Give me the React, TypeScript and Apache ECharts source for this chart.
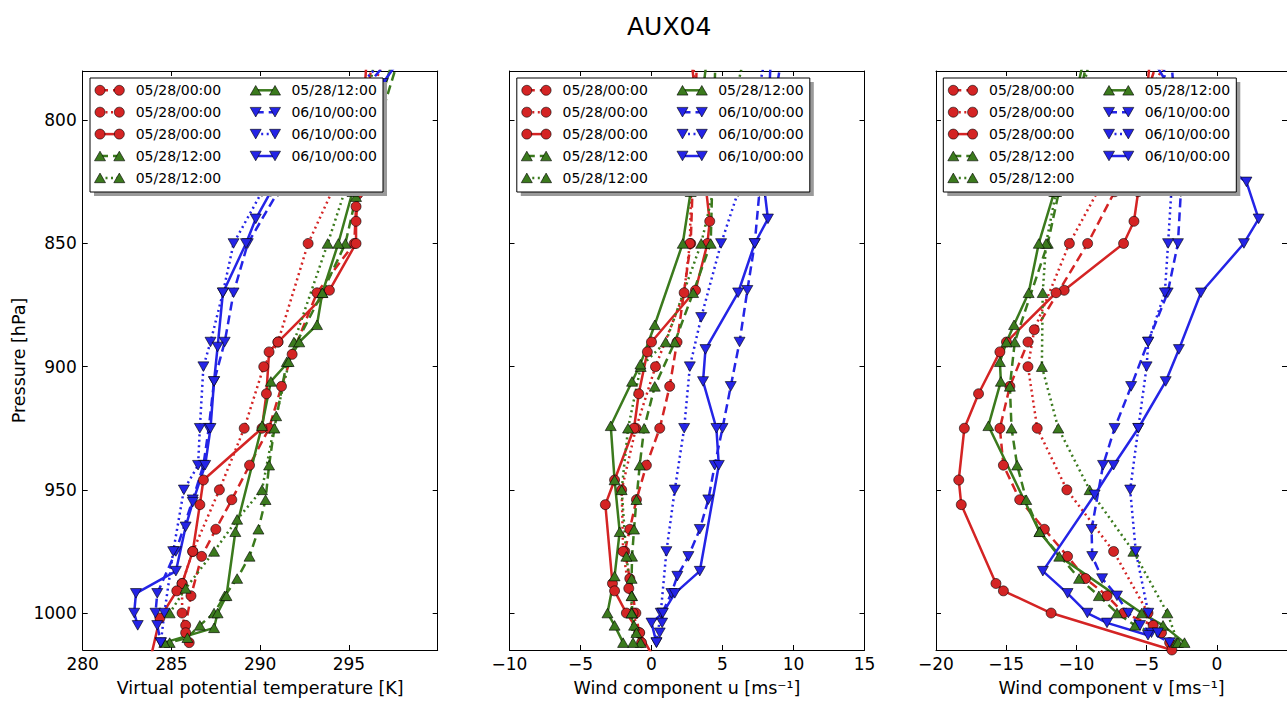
import { useEffect, useRef } from 'react';
import * as echarts from 'echarts';

// ---------- styling constants ----------
const RED = '#d42424';
const GREEN = '#3b7a1d';
const BLUE = '#2424e6';
const FONT = 'DejaVu Sans';

// ---------- axis ticks ----------
const pressureTicks = [800, 850, 900, 950, 1000];
const thetaTickLabels = [280, 285, 290, 295];
const thetaTicks = [280, 285, 290, 295, 300];
const uTicks = [-10, -5, 0, 5, 10, 15];
const vTicks = [-20, -15, -10, -5, 0, 5];

// ---------- series meta (legend order) ----------
const seriesLabels = [
  '05/28/00:00', '05/28/00:00', '05/28/00:00',
  '05/28/12:00', '05/28/12:00', '05/28/12:00',
  '06/10/00:00', '06/10/00:00', '06/10/00:00',
];
const seriesColors = [RED, RED, RED, GREEN, GREEN, GREEN, BLUE, BLUE, BLUE];
const seriesLineKinds = ['dashed', 'dotted', 'solid', 'dashed', 'dotted', 'solid', 'dashed', 'dotted', 'solid'];
const seriesMarkers = ['circle', 'circle', 'circle', 'up', 'up', 'up', 'down', 'down', 'down'];

// ---------- data: [value, pressure hPa] ----------
// Panel 1: virtual potential temperature [K]
const thetaRedDash = [[296.3, 775], [295.4, 835], [295.3, 850], [293.2, 870], [291.8, 895], [291.2, 908], [290.5, 925], [289.4, 940], [288.4, 954], [287.5, 966], [286.7, 977], [286.1, 993], [285.8, 1005], [286.0, 1012]];
const thetaRedDot = [[297.0, 775], [294.1, 828], [292.7, 850], [291.0, 890], [290.2, 900], [289.1, 925], [287.7, 950], [286.2, 975], [285.6, 988], [285.6, 1000], [285.8, 1008]];
const thetaRedSolid = [[296.0, 775], [295.5, 830], [295.4, 841], [295.4, 850], [293.9, 869], [291.0, 890], [290.5, 894], [290.35, 911], [290.1, 925], [286.8, 946], [286.6, 956], [286.2, 975], [285.6, 988], [285.3, 991], [284.35, 1002], [283.9, 1016]];
const thetaGreenDash = [[297.8, 775], [295.4, 831], [294.8, 850], [293.5, 870], [291.5, 898], [290.8, 925], [290.5, 940], [290.3, 954], [289.9, 966], [289.4, 977], [288.7, 986], [288.0, 993], [287.4, 1000], [286.6, 1005], [285.9, 1010], [284.9, 1012]];
const thetaGreenDot = [[296.5, 775], [294.8, 828], [293.8, 850], [291.9, 890], [290.9, 920], [290.1, 950], [288.7, 962], [287.4, 975], [285.8, 990], [284.9, 1000]];
const thetaGreenSolid = [[297.5, 775], [295.2, 829], [294.4, 850], [293.5, 870], [293.2, 883], [292.2, 890], [291.6, 898], [290.6, 906], [290.1, 924], [288.6, 967], [288.1, 993], [287.6, 1000], [287.4, 1006], [284.6, 1012]];
const thetaBlueDash = [[297.3, 775], [291.0, 829], [289.3, 850], [288.5, 870], [288.0, 890], [287.4, 906], [287.1, 925], [286.8, 940], [286.2, 954], [285.25, 975], [284.2, 992], [284.1, 1000], [284.2, 1005], [284.4, 1012]];
const thetaBlueDot = [[297.0, 775], [290.1, 829], [288.5, 850], [287.9, 870], [287.2, 890], [286.8, 900], [286.6, 925], [286.5, 940], [285.7, 950], [285.1, 975], [284.6, 1000], [284.4, 1012]];
const thetaBlueSolid = [[297.9, 775], [296.9, 785], [290.6, 829], [289.75, 840], [289.2, 850], [287.9, 870], [287.6, 892], [287.4, 906], [287.2, 925], [286.9, 940], [286.2, 955], [285.8, 965], [285.25, 983], [283.0, 992], [282.9, 1000], [283.1, 1005]];

// Panel 2: wind component u [m/s]
const uRedDash = [[3.2, 775], [2.76, 850], [1.8, 890], [1.28, 908], [0.58, 925], [-0.36, 940], [-1.06, 954], [-1.53, 966], [-1.88, 975], [-1.53, 986], [-1.1, 1000], [-0.87, 1008], [-0.7, 1012]];
const uRedDot = [[3.0, 775], [2.7, 850], [2.3, 870], [0.28, 900], [-1.1, 925], [-2.1, 950], [-2.0, 975], [-1.6, 990], [-1.3, 1000], [-0.9, 1008]];
const uRedSolid = [[2.8, 775], [4.1, 841], [3.94, 850], [3.1, 869], [0.0, 890], [-0.29, 894], [-0.9, 911], [-1.23, 925], [-2.6, 946], [-3.25, 956], [-2.75, 988], [-2.6, 991], [-1.77, 1000], [-0.83, 1008], [-0.05, 1016]];
const uGreenDash = [[4.5, 775], [4.17, 850], [2.93, 870], [1.64, 890], [0.23, 908], [-0.52, 925], [-0.83, 940], [-1.06, 954], [-1.23, 966], [-1.37, 977], [-1.4, 986], [-1.37, 993], [-1.37, 1000], [-1.23, 1005], [-1.06, 1008], [-0.76, 1012]];
const uGreenDot = [[6.5, 775], [3.5, 850], [1.0, 890], [-0.76, 900], [-1.65, 925], [-2.1, 950], [-1.77, 977], [-1.4, 993], [-1.4, 1000], [-1.3, 1012]];
const uGreenSolid = [[3.9, 775], [2.76, 829], [2.2, 850], [0.23, 883], [-0.78, 899], [-1.37, 906], [-2.87, 924], [-2.6, 946], [-2.24, 967], [-2.6, 985], [-3.1, 1000], [-2.6, 1005], [-2.0, 1012]];
const uBlueDash = [[9.15, 775], [7.6, 829], [7.27, 850], [6.75, 869], [6.2, 890], [5.58, 908], [5.0, 925], [4.45, 940], [4.0, 954], [3.4, 966], [2.6, 977], [1.82, 985], [1.4, 992], [0.75, 1000], [0.75, 1004], [0.58, 1008]];
const uBlueDot = [[8.0, 775], [6.1, 829], [4.9, 850], [3.5, 880], [2.7, 900], [2.3, 925], [1.64, 950], [1.05, 975], [0.65, 1000], [0.35, 1012]];
const uBlueSolid = [[8.4, 775], [7.97, 829], [8.2, 840], [7.27, 850], [6.1, 870], [3.8, 893], [3.63, 906], [4.57, 925], [4.74, 940], [3.4, 983], [1.64, 992], [0.8, 1000], [0.0, 1004], [0.35, 1012]];

// Panel 3: wind component v [m/s]
const vRedDash = [[-4.18, 775], [-7.28, 829], [-9.2, 850], [-13.45, 890], [-14.74, 908], [-15.45, 925], [-15.2, 940], [-14.04, 954], [-12.28, 966], [-10.63, 977], [-9.35, 986], [-7.82, 993], [-6.64, 1000], [-4.53, 1005], [-3.36, 1012]];
const vRedDot = [[-3.5, 775], [-8.4, 828], [-10.5, 850], [-13.0, 885], [-13.45, 900], [-12.79, 925], [-10.68, 950], [-7.35, 975], [-4.9, 1000], [-3.94, 1008]];
const vRedSolid = [[-4.76, 775], [-5.6, 829], [-5.9, 841], [-6.64, 850], [-10.87, 869], [-11.45, 870], [-14.98, 890], [-15.45, 894], [-16.97, 911], [-17.98, 925], [-18.38, 946], [-18.2, 956], [-15.73, 988], [-15.2, 991], [-11.8, 1000], [-3.2, 1015]];
const vGreenDash = [[-9.2, 775], [-12.04, 850], [-14.39, 890], [-14.74, 908], [-14.62, 925], [-14.22, 940], [-13.57, 954], [-12.63, 967], [-9.81, 986], [-8.4, 993], [-7.11, 1000], [-5.82, 1005], [-2.89, 1012]];
const vGreenDot = [[-9.0, 775], [-11.45, 829], [-12.16, 850], [-12.4, 870], [-12.46, 900], [-11.29, 925], [-9.06, 950], [-5.94, 975], [-3.52, 1000], [-2.77, 1012]];
const vGreenSolid = [[-9.46, 775], [-11.57, 829], [-12.68, 850], [-13.4, 870], [-14.44, 883], [-14.98, 890], [-15.45, 898], [-15.38, 906], [-16.27, 924], [-12.63, 967], [-11.22, 977], [-5.35, 1000], [-3.83, 1005], [-2.3, 1012]];
const vBlueDash = [[-3.24, 775], [-2.56, 829], [-2.77, 850], [-3.5, 870], [-4.9, 890], [-6.1, 908], [-7.28, 925], [-8.1, 940], [-8.92, 966], [-8.87, 977], [-8.17, 986], [-7.11, 993], [-6.3, 1000], [-5.47, 1005], [-4.65, 1008], [-3.36, 1012]];
const vBlueDot = [[-3.8, 775], [-3.24, 829], [-3.47, 850], [-3.7, 870], [-4.88, 890], [-5.0, 900], [-5.59, 925], [-6.17, 950], [-5.77, 975], [-4.88, 1000], [-4.2, 1008]];
const vBlueSolid = [[-4.6, 775], [-3.0, 790], [1.1, 821], [2.11, 825], [2.98, 840], [1.93, 850], [-1.13, 870], [-2.7, 893], [-3.64, 906], [-5.59, 925], [-7.35, 940], [-8.7, 952], [-12.39, 983], [-10.63, 992], [-9.22, 1000], [-7.82, 1004], [-4.9, 1009]];

const thetaSeries = [thetaRedDash, thetaRedDot, thetaRedSolid, thetaGreenDash, thetaGreenDot, thetaGreenSolid, thetaBlueDash, thetaBlueDot, thetaBlueSolid];
const uSeries = [uRedDash, uRedDot, uRedSolid, uGreenDash, uGreenDot, uGreenSolid, uBlueDash, uBlueDot, uBlueSolid];
const vSeries = [vRedDash, vRedDot, vRedSolid, vGreenDash, vGreenDot, vGreenSolid, vBlueDash, vBlueDot, vBlueSolid];

const P_MIN = 780;
const P_MAX = 1015;

// ---------- layout ----------
const PLOT_TOP = 71;
const PLOT_H = 581.7;
const PLOT_W = 355;
const panelLefts = [82.7, 509.5, 936];

const panels = [
  { data: thetaSeries, min: 280, max: 300, ticks: thetaTicks, labels: thetaTickLabels, name: 'Virtual potential temperature [K]' },
  { data: uSeries, min: -10, max: 15, ticks: uTicks, labels: uTicks, name: 'Wind component u [ms\u207B\u00B9]' },
  { data: vSeries, min: -20, max: 5, ticks: vTicks, labels: vTicks.slice(0, 5), name: 'Wind component v [ms\u207B\u00B9]' },
];

const dashFor = (kind: string): any =>
  kind === 'dashed' ? [9, 5] : kind === 'dotted' ? [2, 3.5] : 'solid';
const legendDash = (kind: string): any =>
  kind === 'dashed' ? [8, 5] : kind === 'dotted' ? [2, 3.5] : null;

const fmtNum = (v: number) => (v < 0 ? '\u2212' + Math.abs(v) : String(v));

const LZ = 100;

function markerGraphic(kind: string, cx: number, cy: number, color: string): any {
  const style = { fill: color, stroke: '#000', lineWidth: 0.6 };
  if (kind === 'circle') return { type: 'circle', z: LZ + 2, shape: { cx, cy, r: 5 }, style };
  if (kind === 'up')
    return { type: 'polygon', z: LZ + 2, shape: { points: [[cx - 5.5, cy + 4.8], [cx + 5.5, cy + 4.8], [cx, cy - 4.8]] }, style };
  return { type: 'polygon', z: LZ + 2, shape: { points: [[cx - 5.5, cy - 4.8], [cx + 5.5, cy - 4.8], [cx, cy + 4.8]] }, style };
}

function legendGroup(left: number): any {
  const W = 293;
  const H = 114;
  const children: any[] = [
    { type: 'rect', z: LZ, shape: { x: 4, y: 4, width: W, height: H }, style: { fill: '#9a9a9a' } },
    { type: 'rect', z: LZ, shape: { x: 0, y: 0, width: W, height: H }, style: { fill: '#fff', stroke: '#000', lineWidth: 1 } },
  ];
  seriesLabels.forEach((label, i) => {
    const col = i < 5 ? 0 : 1;
    const row = i < 5 ? i : i - 5;
    const m1 = col === 0 ? 10 : 165.7;
    const m2 = m1 + 19.3;
    const y = 12.3 + 21.9 * row;
    const dash = legendDash(seriesLineKinds[i]);
    children.push({
      type: 'line',
      z: LZ + 1,
      shape: { x1: m1, y1: y, x2: m2, y2: y },
      style: { stroke: seriesColors[i], lineWidth: 2.5, lineDash: dash || undefined },
    });
    children.push(markerGraphic(seriesMarkers[i], m1, y, seriesColors[i]));
    children.push(markerGraphic(seriesMarkers[i], m2, y, seriesColors[i]));
    children.push({
      type: 'text',
      z: LZ + 2,
      style: { text: label, x: m1 + 35.7, y, fill: '#000', font: `14px "${FONT}"`, verticalAlign: 'middle', align: 'left' },
    });
  });
  return { type: 'group', x: left + 7.3, y: 78, z: LZ, children };
}

function buildOption(): any {
  const grid: any[] = [];
  const xAxis: any[] = [];
  const yAxis: any[] = [];
  const series: any[] = [];
  const graphic: any[] = [];

  panels.forEach((p, k) => {
    grid.push({ left: panelLefts[k], top: PLOT_TOP, width: PLOT_W, height: PLOT_H, containLabel: false });
    const common = {
      type: 'value',
      gridIndex: k,
      min: p.min,
      max: p.max,
      splitLine: { show: false },
      axisLine: { show: true, onZero: false, lineStyle: { color: '#000', width: 1 } },
      axisTick: { show: true, inside: true, length: 5, customValues: p.ticks, lineStyle: { color: '#000', width: 1 } },
    };
    xAxis.push({
      ...common,
      position: 'bottom',
      name: p.name,
      nameLocation: 'middle',
      nameGap: 29,
      nameTextStyle: { fontSize: 17.5, color: '#000', fontFamily: FONT },
      axisLabel: { show: true, customValues: p.labels, margin: 5, fontSize: 17, color: '#000', fontFamily: FONT, formatter: (v: number) => fmtNum(v) },
    });
    xAxis.push({ ...common, position: 'top', axisLabel: { show: false } });

    const ycommon = {
      type: 'value',
      gridIndex: k,
      min: P_MIN,
      max: P_MAX,
      inverse: true,
      splitLine: { show: false },
      axisLine: { show: true, onZero: false, lineStyle: { color: '#000', width: 1 } },
      axisTick: { show: true, inside: true, length: 5, customValues: pressureTicks, lineStyle: { color: '#000', width: 1 } },
    };
    yAxis.push({
      ...ycommon,
      position: 'left',
      name: k === 0 ? 'Pressure [hPa]' : '',
      nameLocation: 'middle',
      nameGap: 55,
      nameRotate: 90,
      nameTextStyle: { fontSize: 17.5, color: '#000', fontFamily: FONT },
      axisLabel: k === 0
        ? { show: true, customValues: pressureTicks, margin: 6, fontSize: 17, color: '#000', fontFamily: FONT, formatter: (v: number) => String(v) }
        : { show: false },
    });
    yAxis.push({ ...ycommon, position: 'right', axisLabel: { show: false } });

    p.data.forEach((d, i) => {
      const marker = seriesMarkers[i];
      series.push({
        type: 'line',
        name: `${seriesLabels[i]}-${k}-${i}`,
        xAxisIndex: 2 * k,
        yAxisIndex: 2 * k,
        data: d,
        clip: true,
        symbol: marker === 'circle' ? 'circle' : 'triangle',
        symbolSize: marker === 'circle' ? 10 : [11, 9.6],
        symbolRotate: marker === 'down' ? 180 : 0,
        showSymbol: true,
        lineStyle: { color: seriesColors[i], width: 2.5, type: dashFor(seriesLineKinds[i]) },
        itemStyle: { color: seriesColors[i], borderColor: '#000', borderWidth: 0.6 },
        emphasis: { disabled: true },
        z: 2,
      });
    });

    graphic.push(legendGroup(panelLefts[k]));
  });

  return {
    animation: false,
    backgroundColor: '#fff',
    textStyle: { fontFamily: FONT },
    title: {
      text: 'AUX04',
      left: 622,
      top: 9,
      textStyle: { fontSize: 25, fontWeight: 'normal', color: '#000', fontFamily: FONT },
    },
    grid,
    xAxis,
    yAxis,
    series,
    graphic,
  };
}

export default function App() {
  const ref = useRef<HTMLDivElement>(null);
  useEffect(() => {
    if (!ref.current) return;
    const chart = echarts.init(ref.current, undefined, { renderer: 'svg' });
    chart.setOption(buildOption());
    return () => chart.dispose();
  }, []);
  return (
    <div
      ref={ref}
      style={{ position: 'absolute', left: 0, top: 0, width: 1287, height: 702, overflow: 'hidden', background: '#fff' }}
    />
  );
}
